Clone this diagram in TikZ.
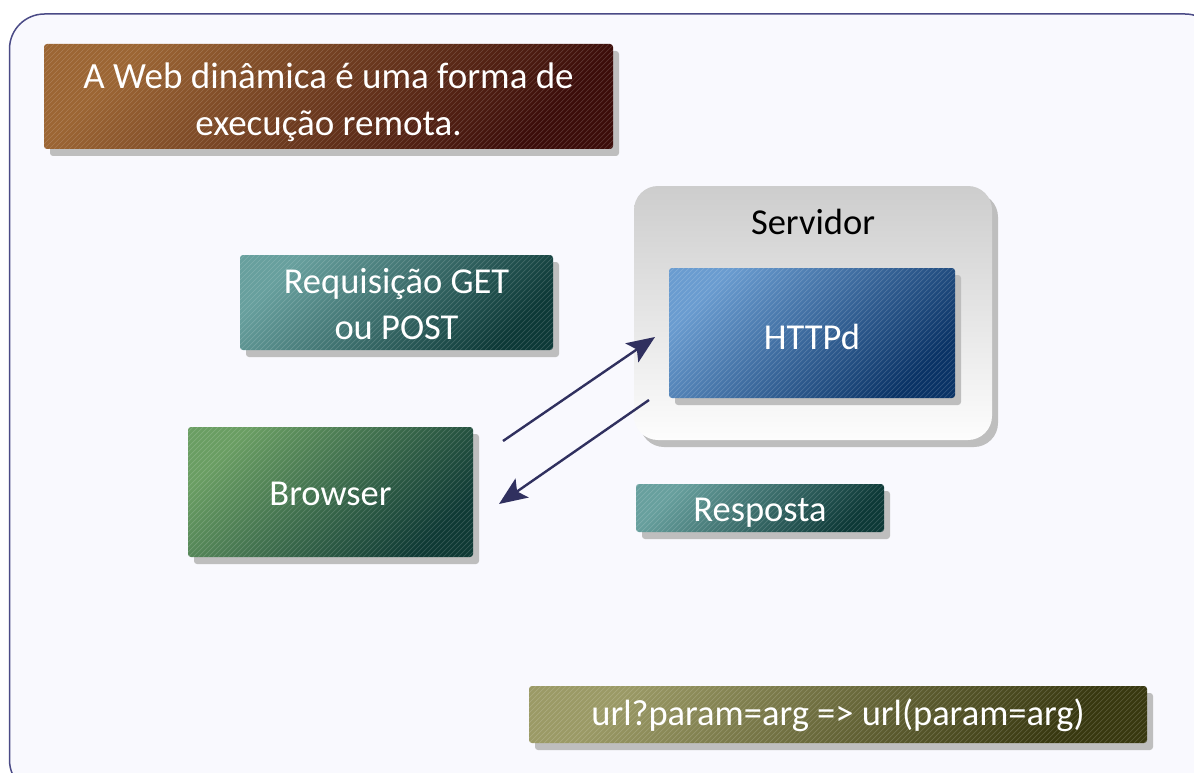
\documentclass[tikz,border=0pt]{standalone}
\usepackage{fontspec}
\setmainfont{Carlito}
\usetikzlibrary{arrows.meta,shadows}
\definecolor{framec}{HTML}{4A4A86}
\definecolor{framefill}{HTML}{F9F9FE}
\definecolor{shadowc}{HTML}{BEBEBE}
\definecolor{arrowc}{HTML}{30305F}
\definecolor{brownA}{HTML}{9C6634}
\definecolor{brownB}{HTML}{3C0D0A}
\definecolor{tealA}{HTML}{68A09E}
\definecolor{tealB}{HTML}{0D3937}
\definecolor{greenA}{HTML}{6A9E63}
\definecolor{greenB}{HTML}{0F3A35}
\definecolor{blueA}{HTML}{6A9CD0}
\definecolor{blueB}{HTML}{0A3366}
\definecolor{oliveA}{HTML}{9B9A66}
\definecolor{oliveB}{HTML}{383810}
\definecolor{srvA}{HTML}{CDCDCD}
\definecolor{srvB}{HTML}{FDFDFD}
\tikzset{
  box/.style={rounded corners=3pt, inner sep=0pt,
    drop shadow={shadow xshift=6pt, shadow yshift=-7pt, fill=shadowc, opacity=1},
    path picture={
      \foreach \i in {-140,-135,...,640}
        \draw[white, opacity=0.16, line width=0.7pt]
          ([xshift=\i pt]path picture bounding box.south west) -- ++(400pt,400pt);
    }},
  grad/.style 2 args={shade, top color=#1, bottom color=#2, shading angle=45},
  txt/.style={text=white, align=center, inner sep=0pt, font=\fontsize{36.5}{46}\selectfont},
  conn/.style={draw=arrowc, line width=2.4pt, -{Stealth[length=28pt,width=23pt,inset=6pt]}}
}
\begin{document}
\begin{tikzpicture}[x=1pt,y=-1pt]
\useasboundingbox (0,0) rectangle (1194,773);
\fill[white] (0,0) rectangle (1194,773);
\begin{scope}
\clip (0,0) rectangle (1194,773);
\draw[framec, fill=framefill, line width=1.5pt, rounded corners=35pt] (9.5,14) rectangle (1220,795);
\end{scope}

\node[box, grad={brownA}{brownB}, minimum width=569pt, minimum height=105pt] (title) at (328.5,96.5) {};
\node[txt, font=\fontsize{37}{47}\selectfont] (titletext) at ([yshift=-6pt]title.center)
  {A Web dinâmica é uma forma de\\execução remota.};

\node[rounded corners=24pt, inner sep=0pt, shade, top color=srvA, bottom color=srvB,
  drop shadow={shadow xshift=6pt, shadow yshift=-7pt, fill=shadowc, opacity=1},
  minimum width=358pt, minimum height=254pt] (server) at (813,313) {};
\node[txt, text=black] (srvlabel) at (813,222) {Servidor};

\node[box, grad={blueA}{blueB}, minimum width=286pt, minimum height=130pt] (httpd) at (812,333) {};
\node[txt] (httpdtext) at ([yshift=-4pt]httpd.center) {HTTPd};

\node[box, grad={tealA}{tealB}, minimum width=313pt, minimum height=95pt] (req) at (396.5,302.5) {};
\node[txt] (reqtext) at ([yshift=-1.5pt]req.center) {Requisição GET\\ou POST};

\node[box, grad={greenA}{greenB}, minimum width=285pt, minimum height=130pt] (browser) at (330.5,492) {};
\node[txt] (browsertext) at ([yshift=-1.5pt]browser.center) {Browser};

\node[box, grad={tealA}{tealB}, minimum width=248pt, minimum height=48pt] (resp) at (760,508) {};
\node[txt] (resptext) at ([yshift=-4.5pt]resp.center) {Resposta};

\node[box, grad={oliveA}{oliveB}, minimum width=618pt, minimum height=57pt] (url) at (838,714.5) {};
\node[txt] (urltext) at ([yshift=-1pt]url.center) {url?param=arg => url(param=arg)};

\coordinate (a1s) at (503,441);
\coordinate (a1e) at (655,337);
\coordinate (a2s) at (649,400);
\coordinate (a2e) at (499,504);
\draw[conn] (a1s) -- (a1e);
\draw[conn] (a2s) -- (a2e);
\end{tikzpicture}
\end{document}
